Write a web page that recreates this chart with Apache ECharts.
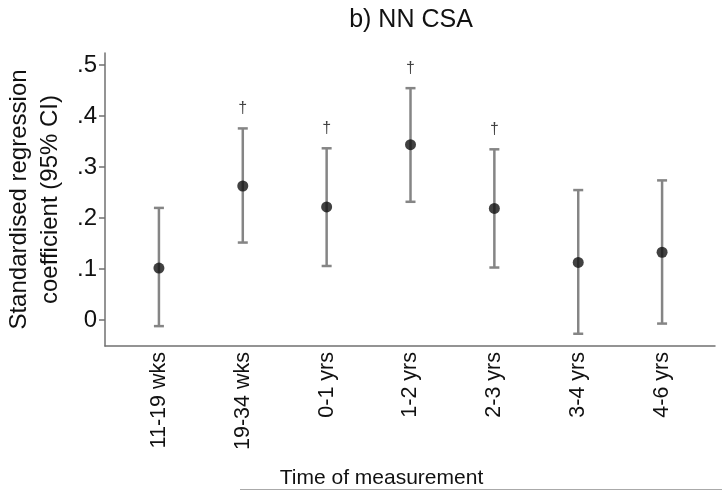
<!DOCTYPE html>
<html>
<head>
<meta charset="utf-8">
<script src="https://cdn.jsdelivr.net/npm/echarts@6/dist/echarts.min.js"></script>
<style>html,body{margin:0;padding:0;background:#fff}#c{width:722px;height:491px}</style>
</head>
<body>
<div id="c"></div>
<script>
const categories = ['11-19 wks','19-34 wks','0-1 yrs','1-2 yrs','2-3 yrs','3-4 yrs','4-6 yrs'];
const estimates = [0.102, 0.263, 0.222, 0.344, 0.219, 0.113, 0.133];
const lower = [-0.012, 0.152, 0.106, 0.232, 0.103, -0.027, -0.007];
const upper = [0.220, 0.376, 0.337, 0.455, 0.335, 0.255, 0.274];
const significant = [false, true, true, true, true, false, false];
const yTicks = [0, 0.1, 0.2, 0.3, 0.4, 0.5];

const FONT = 'Liberation Sans, Arial, sans-serif';
const idx = categories.map((c, i) => i);
const chart = echarts.init(document.getElementById('c'));
chart.setOption({
  backgroundColor: '#fff',
  animation: false,
  title: {
    text: 'b) NN CSA', left: 406, top: 3, textAlign: 'center',
    textStyle: { fontFamily: FONT, fontSize: 25, fontWeight: 'normal', color: '#111' }
  },
  grid: { left: 105, right: 7, top: 53, bottom: 145, containLabel: false, outerBoundsMode: 'none' },
  xAxis: {
    type: 'value', min: -0.643, max: 6.631,
    splitLine: { show: false },
    axisLine: { show: true, onZero: false, lineStyle: { color: '#707070', width: 1.5 } },
    axisTick: { show: false, customValues: idx },
    axisLabel: {
      customValues: idx, rotate: 90, margin: 6,
      fontFamily: FONT, fontSize: 21.5, color: '#111',
      formatter: v => categories[Math.round(v)] || ''
    },
    name: 'Time of measurement', nameLocation: 'middle', nameGap: 122,
    nameTextStyle: { fontFamily: FONT, fontSize: 21, color: '#111', padding: [0, 57, 0, 0] }
  },
  yAxis: {
    type: 'value', min: -0.051, max: 0.524,
    splitLine: { show: false },
    axisLine: { show: true, onZero: false, lineStyle: { color: '#707070', width: 1.5 } },
    axisTick: { show: true, length: 6, customValues: yTicks, lineStyle: { color: '#707070', width: 1.5 } },
    axisLabel: {
      customValues: yTicks, margin: 8,
      fontFamily: FONT, fontSize: 24, color: '#111',
      formatter: v => v === 0 ? '0' : String(Math.round(v * 10) / 10).replace(/^0/, '')
    },
    name: 'Standardised regression\ncoefficient (95% CI)', nameLocation: 'middle', nameGap: 38,
    nameTextStyle: { fontFamily: FONT, fontSize: 24, color: '#111', lineHeight: 31 }
  },
  series: [
    {
      type: 'custom',
      data: idx.map(i => [i, lower[i], upper[i]]),
      renderItem: function (params, api) {
        const x = api.value(0);
        const lo = api.coord([x, api.value(1)]);
        const hi = api.coord([x, api.value(2)]);
        const hw = 5;
        const st = { stroke: '#858585', lineWidth: 2.5 };
        return {
          type: 'group',
          children: [
            { type: 'line', shape: { x1: lo[0], y1: lo[1], x2: hi[0], y2: hi[1] }, style: st },
            { type: 'line', shape: { x1: lo[0] - hw, y1: lo[1], x2: lo[0] + hw, y2: lo[1] }, style: st },
            { type: 'line', shape: { x1: hi[0] - hw, y1: hi[1], x2: hi[0] + hw, y2: hi[1] }, style: st }
          ]
        };
      },
      z: 2
    },
    {
      type: 'scatter',
      data: idx.map(i => [i, estimates[i]]),
      symbol: 'circle', symbolSize: 11,
      itemStyle: { color: '#111' },
      z: 3
    },
    {
      type: 'scatter',
      data: idx.filter(i => significant[i]).map(i => [i, upper[i]]),
      symbolSize: 0,
      label: {
        show: true, position: 'top', distance: 12, formatter: '\u2020',
        fontFamily: FONT, fontSize: 16, color: '#111'
      },
      z: 3
    }
  ],
  graphic: [
    { type: 'line', shape: { x1: 240, y1: 489.5, x2: 722, y2: 489.5 }, style: { stroke: '#aaa', lineWidth: 1 } }
  ]
});
</script>
</body>
</html>
